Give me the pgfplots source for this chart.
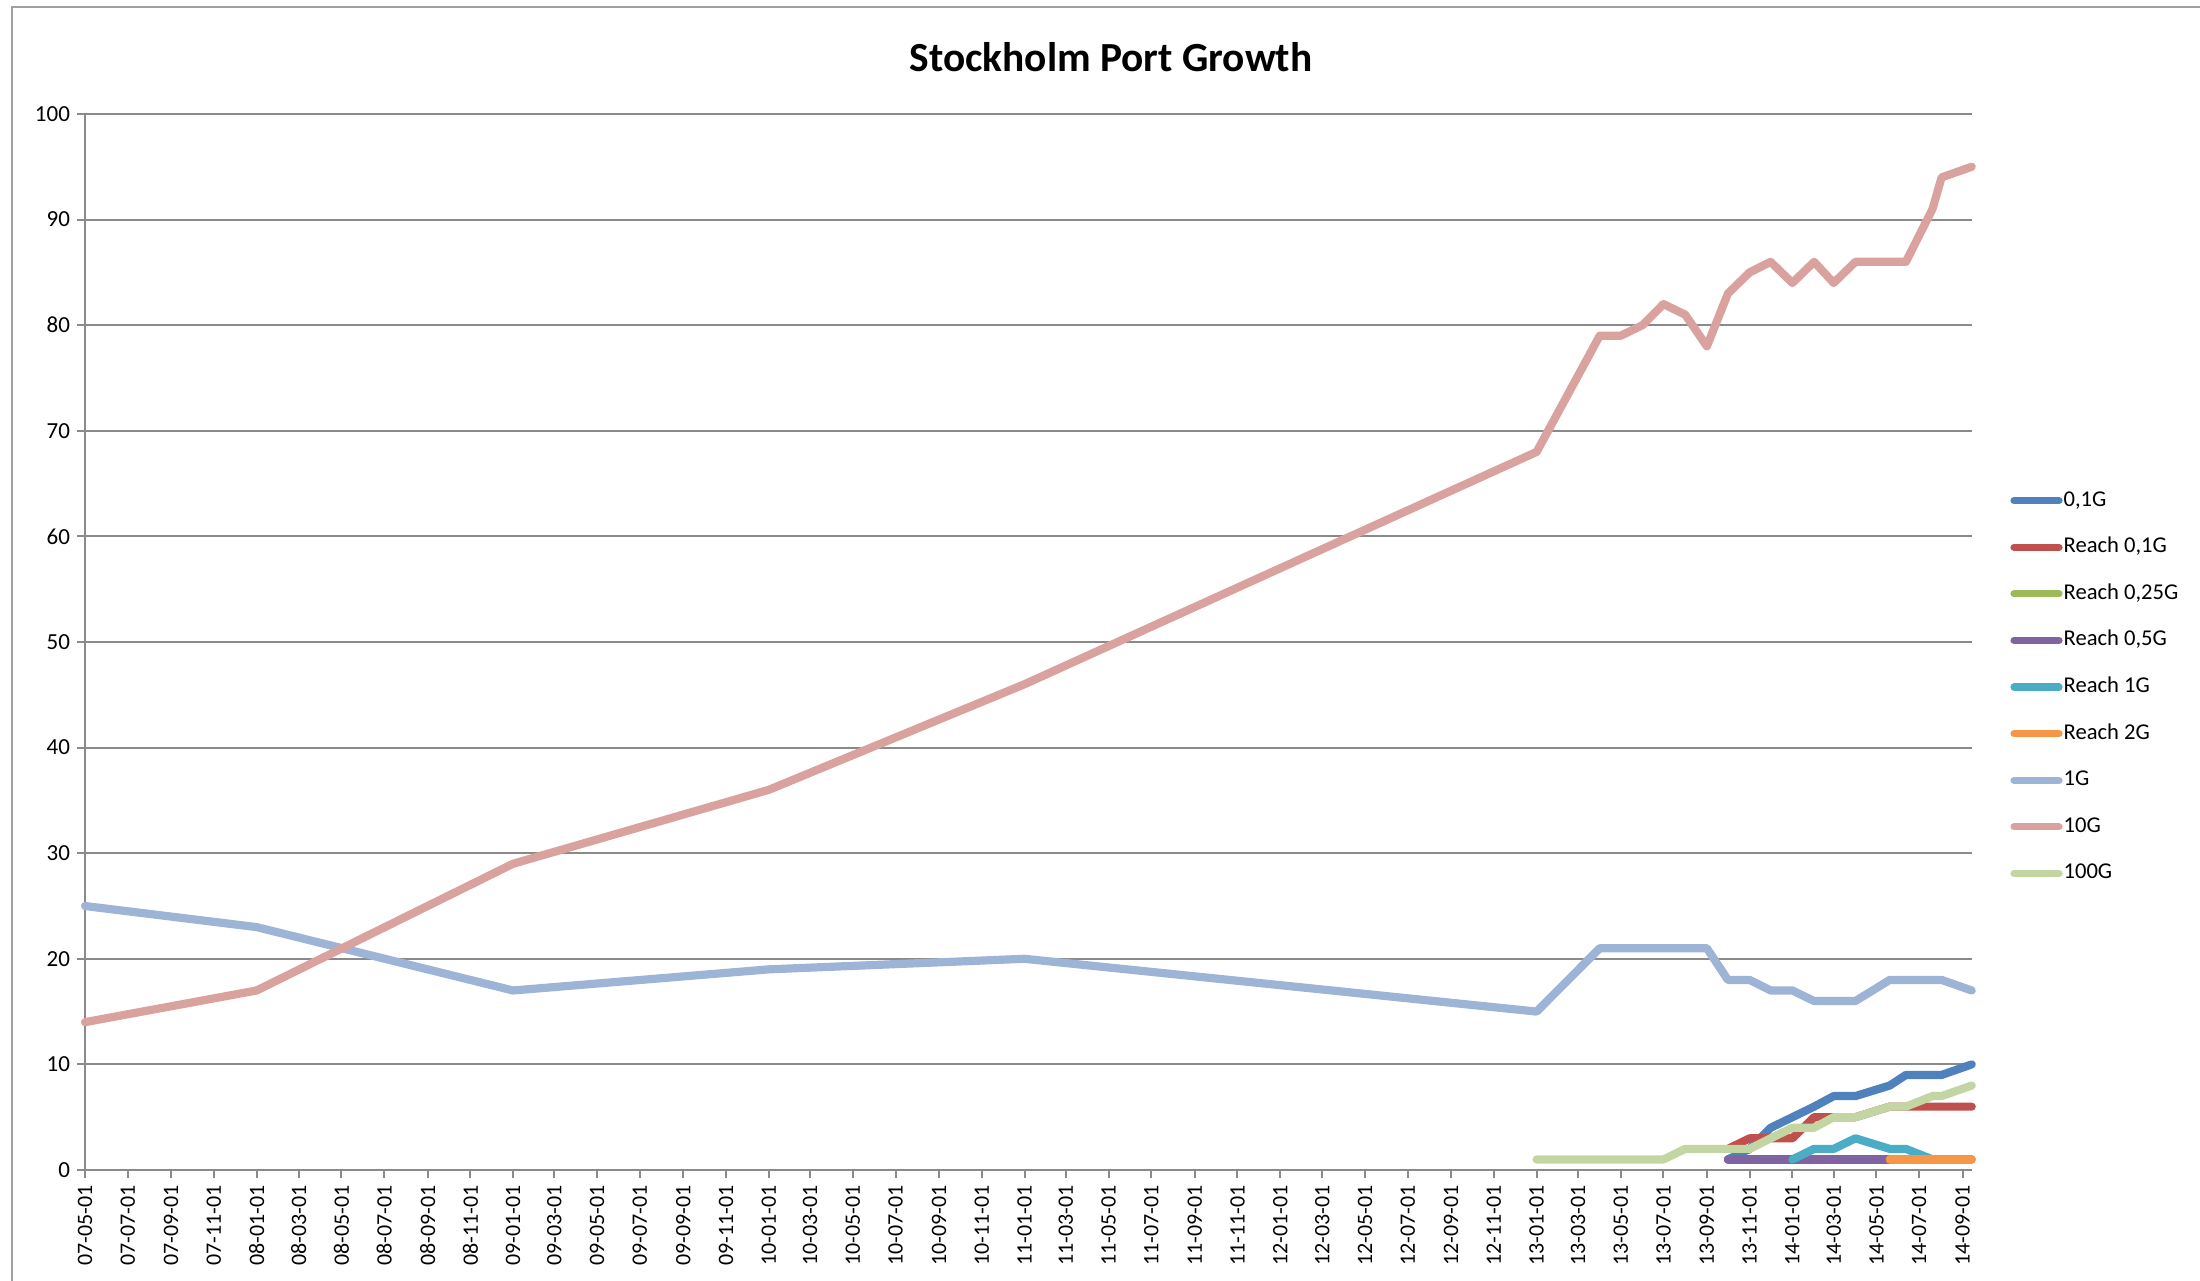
\documentclass[border=0pt]{standalone}
\usepackage{fontspec}
\setmainfont{Carlito}
\usepackage{pgfplots}
\pgfplotsset{compat=1.18}
\definecolor{s1}{HTML}{4F81BD}
\definecolor{s2}{HTML}{C0504D}
\definecolor{s3}{HTML}{9BBB59}
\definecolor{s4}{HTML}{8064A2}
\definecolor{s5}{HTML}{4BACC6}
\definecolor{s6}{HTML}{F79646}
\definecolor{s7}{HTML}{9EB4D7}
\definecolor{s8}{HTML}{D9A29F}
\definecolor{s9}{HTML}{C3D5A3}
\definecolor{gridc}{HTML}{8A8A8A}
\definecolor{framec}{HTML}{A0A0A0}
\begin{document}
\begin{tikzpicture}
\useasboundingbox (0,0) rectangle (1100pt,640pt);
\clip (0,0) rectangle (1100pt,640pt);
\draw[framec, line width=1pt] (6pt,-10pt) -- (6pt,636.5pt) -- (1110pt,636.5pt);
\node[font=\bfseries\fontsize{20.7}{25}\selectfont, anchor=base] at (555.5pt,604.4pt) {Stockholm Port Growth};
\begin{axis}[
 at={(42.5pt,55pt)}, anchor=south west,
 width=943.35pt, height=528pt, scale only axis,
 xmin=0, xmax=2693, ymin=0, ymax=100,
 axis lines*=left, axis line style={gridc, line width=1pt, -},
 ytick={0,10,...,100}, ymajorgrids, grid style={gridc, line width=1pt},
 xtick={0,61,123,184,245,305,366,427,489,550,611,670,731,792,854,915,976,1035,1096,1157,1219,1280,1341,1400,1461,1522,1584,1645,1706,1766,1827,1888,1950,2011,2072,2131,2192,2253,2315,2376,2437,2496,2557,2618,2680},
 xticklabels={07-05-01,07-07-01,07-09-01,07-11-01,08-01-01,08-03-01,08-05-01,08-07-01,08-09-01,08-11-01,09-01-01,09-03-01,09-05-01,09-07-01,09-09-01,09-11-01,10-01-01,10-03-01,10-05-01,10-07-01,10-09-01,10-11-01,11-01-01,11-03-01,11-05-01,11-07-01,11-09-01,11-11-01,12-01-01,12-03-01,12-05-01,12-07-01,12-09-01,12-11-01,13-01-01,13-03-01,13-05-01,13-07-01,13-09-01,13-11-01,14-01-01,14-03-01,14-05-01,14-07-01,14-09-01},
 x tick label style={rotate=90, anchor=east, font=\fontsize{11}{13}\selectfont},
 y tick label style={font=\fontsize{11.5}{13}\selectfont},
 tick align=outside, major tick length=4pt, tick style={gridc, line width=1pt},
 /pgf/number format/assume math mode=true,
 every axis plot/.append style={line width=4.1pt, line cap=round, line join=round},
 legend style={at={(1.0203,0.4573)}, anchor=west, draw=none, fill=none, font=\fontsize{11.3}{13}\selectfont, row sep=12.8pt, inner sep=0pt, nodes={inner ysep=0pt, inner xsep=0.5pt, text height=8pt, text depth=2.5pt}},
 legend cell align=left,
 legend image code/.code={\draw[#1, line width=3.6pt, line cap=round] (0pt,0pt) -- (22.5pt,0pt);},
 clip=false,
]
\addplot[s1] coordinates {(2345,1)(2376,2)(2406,4)(2437,5)(2468,6)(2496,7)(2527,7)(2576,8)(2599,9)(2637,9)(2650,9)(2693,10)};
\addlegendentry{0,1G}
\addplot[s2] coordinates {(2345,2)(2376,3)(2406,3)(2437,3)(2468,5)(2496,5)(2527,5)(2576,6)(2599,6)(2637,6)(2650,6)(2693,6)};
\addlegendentry{Reach 0,1G}
\addlegendimage{s3}
\addlegendentry{Reach 0,25G}
\addplot[s4] coordinates {(2345,1)(2376,1)(2406,1)(2437,1)(2468,1)(2496,1)(2527,1)(2576,1)};
\addlegendentry{Reach 0,5G}
\addplot[s5] coordinates {(2437,1)(2468,2)(2496,2)(2527,3)(2576,2)(2599,2)(2637,1)(2650,1)(2693,1)};
\addlegendentry{Reach 1G}
\addplot[s6] coordinates {(2576,1)(2599,1)(2637,1)(2650,1)(2693,1)};
\addlegendentry{Reach 2G}
\addplot[s7] coordinates {(0,25)(245,23)(611,17)(976,19)(1341,20)(2072,15)(2162,21)(2192,21)(2223,21)(2253,21)(2284,21)(2315,21)(2345,18)(2376,18)(2406,17)(2437,17)(2468,16)(2496,16)(2527,16)(2576,18)(2599,18)(2637,18)(2650,18)(2693,17)};
\addlegendentry{1G}
\addplot[s8] coordinates {(0,14)(245,17)(611,29)(976,36)(1341,46)(2072,68)(2162,79)(2192,79)(2223,80)(2253,82)(2284,81)(2315,78)(2345,83)(2376,85)(2406,86)(2437,84)(2468,86)(2496,84)(2527,86)(2576,86)(2599,86)(2637,91)(2650,94)(2693,95)};
\addlegendentry{10G}
\addplot[s9] coordinates {(2072,1)(2103,1)(2131,1)(2162,1)(2192,1)(2223,1)(2253,1)(2284,2)(2315,2)(2345,2)(2376,2)(2406,3)(2437,4)(2468,4)(2496,5)(2527,5)(2576,6)(2599,6)(2637,7)(2650,7)(2693,8)};
\addlegendentry{100G}
\end{axis}
\end{tikzpicture}
\end{document}
